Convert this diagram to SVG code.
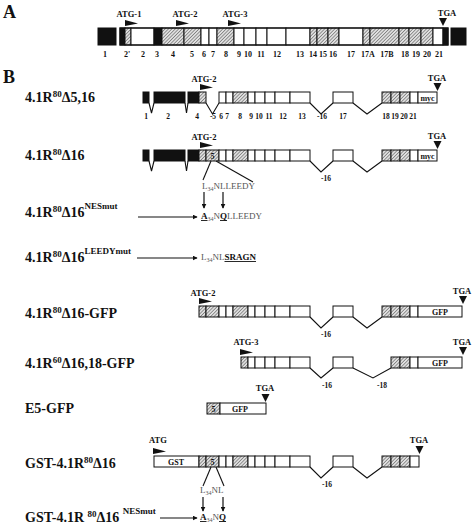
<svg xmlns="http://www.w3.org/2000/svg" xmlns:xlink="http://www.w3.org/1999/xlink" width="474" height="527" viewBox="0 0 474 527">
<style>
text{font-family:"Liberation Serif","Times New Roman",serif;fill:#111}
.pl{font-size:18px;font-weight:bold}
.lab{font-size:14px;font-weight:bold}
.sup{font-size:9px}
.num{font-size:8px;font-weight:bold;text-anchor:middle}
.bn{font-size:7.5px;font-weight:bold;text-anchor:middle}
.tag{font-size:8.5px;font-weight:bold;text-anchor:middle}
.in{font-size:8px;font-weight:bold;text-anchor:middle}
.seq{font-size:9px;fill:#555}
.seq .b{font-weight:bold;fill:#111;text-decoration:underline}
.sub{font-size:6px}
.w{fill:#fff;stroke:#111;stroke-width:1}
.k{fill:#111;stroke:#111;stroke-width:1}
.h{fill:url(#hatch);stroke:#111;stroke-width:1}
.ln{fill:none;stroke:#111;stroke-width:1.1}
.ar{fill:none;stroke:#111;stroke-width:1.2;marker-end:url(#ah)}
</style>
<defs>
<pattern id="hatch" patternUnits="userSpaceOnUse" width="2.4" height="2.4" patternTransform="rotate(45)">
<rect width="2.4" height="2.4" fill="#e0e0e0"/>
<line x1="0" y1="0" x2="0" y2="2.4" stroke="#333" stroke-width="0.9"/>
</pattern>
<path id="flag" d="M0,0 L13,3.5 L0,6 Z" fill="#111"/>
<path id="tri" d="M-4,0 L4,0 L0,8 Z" fill="#111"/>
<marker id="ah" viewBox="0 0 8 8" refX="7" refY="4" markerWidth="5" markerHeight="5" orient="auto" markerUnits="userSpaceOnUse">
<path d="M0,0 L8,4 L0,8 Z" fill="#111"/>
</marker>
</defs>
<rect width="474" height="527" fill="#fff"/>

<!-- Panel A -->
<g id="panelA">
<text class="pl" x="3" y="18">A</text>
<text class="tag" x="129" y="17">ATG-1</text>
<use xlink:href="#flag" x="125" y="20"/>
<text class="tag" x="185" y="17">ATG-2</text>
<use xlink:href="#flag" x="176" y="20"/>
<text class="tag" x="235" y="17">ATG-3</text>
<use xlink:href="#flag" x="228" y="20"/>
<text class="tag" x="447" y="16">TGA</text>
<use xlink:href="#tri" x="443" y="18"/>
<rect class="k" x="98" y="28" width="18" height="17"/>
<rect class="k" x="451" y="28" width="15" height="17"/>
<rect class="k" x="120" y="28" width="5" height="17"/>
<rect class="h" x="125" y="28" width="6" height="17"/>
<rect class="w" x="131" y="28" width="23" height="17"/>
<rect class="k" x="154" y="28" width="8" height="17"/>
<rect class="h" x="162" y="28" width="22" height="17"/>
<rect class="h" x="184" y="28" width="17" height="17"/>
<rect class="w" x="201" y="28" width="8" height="17"/>
<rect class="w" x="209" y="28" width="8" height="17"/>
<rect class="h" x="217" y="28" width="17" height="17"/>
<rect class="w" x="234" y="28" width="10" height="17"/>
<rect class="w" x="244" y="28" width="12" height="17"/>
<rect class="w" x="256" y="28" width="11" height="17"/>
<rect class="w" x="267" y="28" width="19" height="17"/>
<rect class="w" x="286" y="28" width="24" height="17"/>
<rect class="h" x="310" y="28" width="7" height="17"/>
<rect class="h" x="317" y="28" width="11" height="17"/>
<rect class="h" x="328" y="28" width="11" height="17"/>
<rect class="w" x="339" y="28" width="24" height="17"/>
<rect class="h" x="363" y="28" width="7" height="17"/>
<rect class="h" x="370" y="28" width="29" height="17"/>
<rect class="h" x="399" y="28" width="10" height="17"/>
<rect class="h" x="409" y="28" width="12" height="17"/>
<rect class="h" x="421" y="28" width="12" height="17"/>
<rect class="w" x="433" y="28" width="10" height="17"/>
<rect class="k" x="443" y="28" width="5" height="17"/>
<rect x="120" y="28" width="328" height="17" fill="none" stroke="#111" stroke-width="1.2"/>
<g class="nums">
<text class="num" x="105" y="57">1</text>
<text class="num" x="127" y="57">2'</text>
<text class="num" x="143" y="57">2</text>
<text class="num" x="157" y="57">3</text>
<text class="num" x="173" y="57">4</text>
<text class="num" x="192" y="57">5</text>
<text class="num" x="204" y="57">6</text>
<text class="num" x="213" y="57">7</text>
<text class="num" x="226" y="57">8</text>
<text class="num" x="239" y="57">9</text>
<text class="num" x="248" y="57">10</text>
<text class="num" x="261" y="57">11</text>
<text class="num" x="277" y="57">12</text>
<text class="num" x="300" y="57">13</text>
<text class="num" x="313" y="57">14</text>
<text class="num" x="323" y="57">15</text>
<text class="num" x="333" y="57">16</text>
<text class="num" x="351" y="57">17</text>
<text class="num" x="368" y="57">17A</text>
<text class="num" x="387" y="57">17B</text>
<text class="num" x="405" y="57">18</text>
<text class="num" x="416" y="57">19</text>
<text class="num" x="427" y="57">20</text>
<text class="num" x="439" y="57">21</text>
</g>
</g>

<text class="pl" x="3" y="83">B</text>

<!-- Construct 1 -->
<g id="c1">
<text class="lab" x="25" y="102">4.1R<tspan class="sup" dy="-5">80</tspan><tspan dy="5">Δ5,16</tspan></text>
<g transform="translate(0,92)">
<text class="tag" x="204" y="-10">ATG-2</text>
<use xlink:href="#flag" x="200" y="-8"/>
<text class="tag" x="437" y="-11">TGA</text>
<use xlink:href="#tri" x="437.5" y="-9"/>
<rect class="k" x="143" y="0" width="6" height="11"/>
<rect class="k" x="154" y="0" width="31" height="11"/>
<rect class="k" x="188" y="0" width="11" height="11"/>
<rect class="h" x="199" y="0" width="7" height="11"/>
<rect class="w" x="219" y="0" width="7" height="11"/>
<rect class="w" x="226" y="0" width="7" height="11"/>
<rect class="h" x="233" y="0" width="15" height="11"/>
<rect class="w" x="248" y="0" width="7" height="11"/>
<rect class="w" x="255" y="0" width="10" height="11"/>
<rect class="w" x="265" y="0" width="10" height="11"/>
<rect class="w" x="275" y="0" width="15" height="11"/>
<rect class="w" x="290" y="0" width="20" height="11"/>
<rect class="w" x="333" y="0" width="20" height="11"/>
<rect class="h" x="382" y="0" width="9" height="11"/>
<rect class="h" x="391" y="0" width="9" height="11"/>
<rect class="h" x="400" y="0" width="10" height="11"/>
<rect class="w" x="410" y="0" width="8" height="11"/>
<rect class="w" x="418" y="0" width="19" height="11"/>
<text class="in" x="427.5" y="8.5">myc</text>
<polyline class="ln" points="149,11 151.5,21 154,11"/>
<polyline class="ln" points="185,11 186.5,21 188,11"/>
<polyline class="ln" points="206,11 212.5,22 219,11"/>
<polyline class="ln" points="310,11 321,22 333,11"/>
<polyline class="ln" points="353,11 367,22 382,11"/>
<text class="bn" x="146" y="27">1</text>
<text class="bn" x="168" y="27">2</text>
<text class="bn" x="197" y="27">4</text>
<text class="bn" x="213" y="27">-5</text>
<text class="bn" x="221" y="27">6</text>
<text class="bn" x="227" y="27">7</text>
<text class="bn" x="240" y="27">8</text>
<text class="bn" x="251" y="27">9</text>
<text class="bn" x="259" y="27">10</text>
<text class="bn" x="269" y="27">11</text>
<text class="bn" x="283" y="27">12</text>
<text class="bn" x="302" y="27">13</text>
<text class="bn" x="322" y="27">-16</text>
<text class="bn" x="343" y="27">17</text>
<text class="bn" x="386" y="27">18</text>
<text class="bn" x="395" y="27">19</text>
<text class="bn" x="404" y="27">20</text>
<text class="bn" x="413" y="27">21</text>
</g>
</g>

<!-- Construct 2 -->
<g id="c2">
<text class="lab" x="25" y="160">4.1R<tspan class="sup" dy="-5">80</tspan><tspan dy="5">Δ16</tspan></text>
<g transform="translate(0,150)">
<text class="tag" x="204" y="-10">ATG-2</text>
<use xlink:href="#flag" x="200" y="-8"/>
<text class="tag" x="437" y="-11">TGA</text>
<use xlink:href="#tri" x="437.5" y="-9"/>
<rect class="k" x="143" y="0" width="6" height="11"/>
<rect class="k" x="154" y="0" width="31" height="11"/>
<rect class="k" x="188" y="0" width="11" height="11"/>
<rect class="h" x="199" y="0" width="7" height="11"/>
<rect class="h" x="206" y="0" width="13" height="11"/>
<text class="in" x="212.5" y="8.5">5</text>
<rect class="w" x="219" y="0" width="7" height="11"/>
<rect class="w" x="226" y="0" width="7" height="11"/>
<rect class="h" x="233" y="0" width="15" height="11"/>
<rect class="w" x="248" y="0" width="7" height="11"/>
<rect class="w" x="255" y="0" width="10" height="11"/>
<rect class="w" x="265" y="0" width="10" height="11"/>
<rect class="w" x="275" y="0" width="15" height="11"/>
<rect class="w" x="290" y="0" width="20" height="11"/>
<rect class="w" x="333" y="0" width="20" height="11"/>
<rect class="h" x="382" y="0" width="9" height="11"/>
<rect class="h" x="391" y="0" width="9" height="11"/>
<rect class="h" x="400" y="0" width="10" height="11"/>
<rect class="w" x="410" y="0" width="8" height="11"/>
<rect class="w" x="418" y="0" width="19" height="11"/>
<text class="in" x="427.5" y="8.5">myc</text>
<polyline class="ln" points="149,11 151.5,21 154,11"/>
<polyline class="ln" points="185,11 186.5,21 188,11"/>
<polyline class="ln" points="310,11 321,22 333,11"/>
<polyline class="ln" points="353,11 367,22 382,11"/>
<text class="bn" x="326" y="31">-16</text>
</g>
<line class="ln" x1="211" y1="161" x2="203" y2="180"/>
<line class="ln" x1="216" y1="161" x2="253" y2="182"/>
<text class="seq" x="202" y="189">L<tspan class="sub" dy="2">34</tspan><tspan dy="-2">NLLEEDY</tspan></text>
</g>

<!-- Construct 3 -->
<g id="c3">
<line class="ar" x1="204" y1="192" x2="204" y2="208"/>
<line class="ar" x1="223" y1="192" x2="223" y2="208"/>
<text class="lab" x="25" y="217">4.1R<tspan class="sup" dy="-5">80</tspan><tspan dy="5">Δ16</tspan><tspan class="sup" dy="-8">NESmut</tspan></text>
<line class="ar" x1="138" y1="217" x2="197" y2="217"/>
<text class="seq" x="201" y="219"><tspan class="b">A</tspan><tspan class="sub" dy="2">34</tspan><tspan dy="-2">N</tspan><tspan class="b">Q</tspan>LLEEDY</text>
</g>

<!-- Construct 4 -->
<g id="c4">
<text class="lab" x="25" y="262">4.1R<tspan class="sup" dy="-5">80</tspan><tspan dy="5">Δ16</tspan><tspan class="sup" dy="-8">LEEDYmut</tspan></text>
<line class="ar" x1="137" y1="258" x2="197" y2="258"/>
<text class="seq" x="201" y="260">L<tspan class="sub" dy="2">34</tspan><tspan dy="-2">NL</tspan><tspan class="b">SRAGN</tspan></text>
</g>

<!-- Construct 5 -->
<g id="c5">
<text class="lab" x="25" y="318">4.1R<tspan class="sup" dy="-5">80</tspan><tspan dy="5">Δ16-GFP</tspan></text>
<g transform="translate(0,306)">
<text class="tag" x="203" y="-10">ATG-2</text>
<use xlink:href="#flag" x="199" y="-8"/>
<text class="tag" x="462" y="-12">TGA</text>
<use xlink:href="#tri" x="463" y="-10"/>
<rect class="h" x="199" y="0" width="7" height="11"/>
<rect class="h" x="206" y="0" width="13" height="11"/>
<rect class="w" x="219" y="0" width="7" height="11"/>
<rect class="w" x="226" y="0" width="7" height="11"/>
<rect class="h" x="233" y="0" width="15" height="11"/>
<rect class="w" x="248" y="0" width="7" height="11"/>
<rect class="w" x="255" y="0" width="10" height="11"/>
<rect class="w" x="265" y="0" width="10" height="11"/>
<rect class="w" x="275" y="0" width="15" height="11"/>
<rect class="w" x="290" y="0" width="20" height="11"/>
<rect class="w" x="333" y="0" width="20" height="11"/>
<rect class="h" x="382" y="0" width="9" height="11"/>
<rect class="h" x="391" y="0" width="9" height="11"/>
<rect class="h" x="400" y="0" width="10" height="11"/>
<rect class="w" x="410" y="0" width="8" height="11"/>
<rect class="w" x="418" y="0" width="44" height="11"/>
<text class="in" x="440" y="8.5">GFP</text>
<polyline class="ln" points="310,11 321,22 333,11"/>
<polyline class="ln" points="353,11 367,22 382,11"/>
<text class="bn" x="326" y="31">-16</text>
</g>
</g>

<!-- Construct 6 -->
<g id="c6">
<text class="lab" x="25" y="368">4.1R<tspan class="sup" dy="-5">60</tspan><tspan dy="5">Δ16,18-GFP</tspan></text>
<g transform="translate(0,357)">
<text class="tag" x="246" y="-12">ATG-3</text>
<use xlink:href="#flag" x="240" y="-8"/>
<text class="tag" x="462" y="-12">TGA</text>
<use xlink:href="#tri" x="463" y="-10"/>
<rect class="h" x="241" y="0" width="7" height="11"/>
<rect class="w" x="248" y="0" width="7" height="11"/>
<rect class="w" x="255" y="0" width="10" height="11"/>
<rect class="w" x="265" y="0" width="10" height="11"/>
<rect class="w" x="275" y="0" width="15" height="11"/>
<rect class="w" x="290" y="0" width="20" height="11"/>
<rect class="w" x="333" y="0" width="20" height="11"/>
<rect class="h" x="391" y="0" width="9" height="11"/>
<rect class="h" x="400" y="0" width="10" height="11"/>
<rect class="w" x="410" y="0" width="8" height="11"/>
<rect class="w" x="418" y="0" width="44" height="11"/>
<text class="in" x="440" y="8.5">GFP</text>
<polyline class="ln" points="310,11 321,21 333,11"/>
<polyline class="ln" points="353,11 373,21 391,11"/>
<text class="bn" x="327" y="31">-16</text>
<text class="bn" x="382" y="31">-18</text>
</g>
</g>

<!-- Construct 7 -->
<g id="c7">
<text class="lab" x="25" y="413">E5-GFP</text>
<g transform="translate(0,403)">
<text class="tag" x="265" y="-12">TGA</text>
<use xlink:href="#tri" x="265.5" y="-9"/>
<rect class="h" x="207" y="0" width="13" height="11"/>
<text class="in" x="213.5" y="8.5">5</text>
<rect class="w" x="220" y="0" width="46" height="11"/>
<text class="in" x="240" y="8.5">GFP</text>
</g>
</g>

<!-- Construct 8 -->
<g id="c8">
<text class="lab" x="25" y="468">GST-4.1R<tspan class="sup" dy="-5">80</tspan><tspan dy="5">Δ16</tspan></text>
<g transform="translate(0,456)">
<text class="tag" x="158" y="-13">ATG</text>
<use xlink:href="#flag" x="153" y="-8"/>
<text class="tag" x="419" y="-13">TGA</text>
<use xlink:href="#tri" x="419.5" y="-10"/>
<rect class="w" x="154" y="0" width="45" height="11"/>
<text class="in" x="176" y="8.5">GST</text>
<rect class="h" x="199" y="0" width="7" height="11"/>
<rect class="h" x="206" y="0" width="13" height="11"/>
<text class="in" x="212.5" y="8.5">5</text>
<rect class="w" x="219" y="0" width="7" height="11"/>
<rect class="w" x="226" y="0" width="7" height="11"/>
<rect class="h" x="233" y="0" width="15" height="11"/>
<rect class="w" x="248" y="0" width="7" height="11"/>
<rect class="w" x="255" y="0" width="10" height="11"/>
<rect class="w" x="265" y="0" width="10" height="11"/>
<rect class="w" x="275" y="0" width="15" height="11"/>
<rect class="w" x="290" y="0" width="20" height="11"/>
<rect class="w" x="333" y="0" width="20" height="11"/>
<rect class="h" x="382" y="0" width="9" height="11"/>
<rect class="h" x="391" y="0" width="9" height="11"/>
<rect class="h" x="400" y="0" width="10" height="11"/>
<rect class="w" x="410" y="0" width="9" height="11"/>
<polyline class="ln" points="310,11 321,22 333,11"/>
<polyline class="ln" points="353,11 367,22 382,11"/>
<text class="bn" x="327" y="31">-16</text>
</g>
<line class="ln" x1="211" y1="467" x2="203" y2="486"/>
<line class="ln" x1="216" y1="467" x2="224" y2="486"/>
<text class="seq" x="200" y="493">L<tspan class="sub" dy="2">34</tspan><tspan dy="-2">NL</tspan></text>
</g>

<!-- Construct 9 -->
<g id="c9">
<line class="ar" x1="203" y1="497" x2="203" y2="511"/>
<line class="ar" x1="223" y1="497" x2="223" y2="511"/>
<text class="lab" x="25" y="522">GST-4.1R <tspan class="sup" dy="-5">80</tspan><tspan dy="5">Δ16 </tspan><tspan class="sup" dy="-8">NESmut</tspan></text>
<line class="ar" x1="160" y1="518" x2="197" y2="518"/>
<text class="seq" x="200" y="520"><tspan class="b">A</tspan><tspan class="sub" dy="2">34</tspan><tspan dy="-2">N</tspan><tspan class="b">Q</tspan></text>
</g>
</svg>
